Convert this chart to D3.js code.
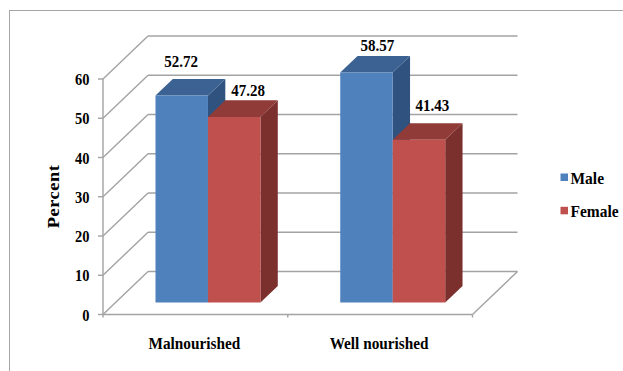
<!DOCTYPE html>
<html>
<head>
<meta charset="utf-8">
<script src="https://cdn.jsdelivr.net/npm/d3@7/dist/d3.min.js"></script>
<style>
  html, body { margin: 0; padding: 0; background: #ffffff; }
  svg { display: block; }
</style>
</head>
<body>
<svg id="chart" width="623" height="371"></svg>
<script>
// ---- data ----
const categories = ["Malnourished", "Well nourished"];
const seriesNames = ["Male", "Female"];
const maleValues = [52.72, 58.57];
const femaleValues = [47.28, 41.43];
const yTicks = [0, 10, 20, 30, 40, 50, 60];
const axisTitle = "Percent";

// ---- layout ----
const FONT = "'Liberation Serif', 'Times New Roman', Times, 'DejaVu Serif', serif";
const plotLeft = 103, plotRight = 472.5;
const yBottom = 314.5, yTop = 79;
const depth = { dx: 45, dy: -43 };       // floor / wall depth vector
const barDepthFront = 0.28, barDepthBack = 0.665;
const gridColor = "#a3a3a3";
const colors = {
  Male:   { front: "#4f81bd", top: "#3b6293", side: "#30527e" },
  Female: { front: "#c0504d", top: "#913b39", side: "#7b302e" }
};
// small per-label nudges relative to the top of each bar's front face
const labelShift = {
  Male:   [[-0.5, -29], [11, -22]],
  Female: [[14, -21], [13.5, -29]]
};

const svg = d3.select("#chart");

const y = d3.scaleLinear().domain([0, 60]).range([yBottom, yTop]);
const x0 = d3.scaleBand().domain(categories).range([plotLeft, plotRight]).padding(0);
const x1 = d3.scaleBand().domain(seriesNames).range([0, x0.bandwidth()])
  .paddingInner(0).paddingOuter(0.76);

// projection of a front-plane point (x, value) pushed back by fraction d of the depth
const P = (x, v, d) => [x + d * depth.dx, y(v) + d * depth.dy];
const poly = pts => "M" + pts.map(p => p.join(",")).join("L") + "Z";

// outer frame
svg.append("rect")
  .attr("x", 9.5).attr("y", 10.5).attr("width", 700).attr("height", 500)
  .attr("fill", "none").attr("stroke", "#a6a6a6").attr("stroke-width", 1);

const grid = svg.append("g").attr("stroke", gridColor).attr("stroke-width", 1.4).attr("fill", "none");

// back wall gridlines and left wall diagonals
yTicks.forEach(t => {
  const a = P(plotLeft, t, 1), b = P(plotRight, t, 1), f = P(plotLeft, t, 0);
  grid.append("line").attr("x1", a[0]).attr("y1", a[1]).attr("x2", b[0]).attr("y2", b[1]);
  grid.append("line").attr("x1", f[0]).attr("y1", f[1]).attr("x2", a[0]).attr("y2", a[1]);
});

// floor front edge and right edge
{
  const fl = P(plotLeft, 0, 0), fr = P(plotRight, 0, 0), br = P(plotRight, 0, 1);
  grid.append("line").attr("x1", fl[0]).attr("y1", fl[1]).attr("x2", fr[0]).attr("y2", fr[1]);
  grid.append("line").attr("x1", fr[0]).attr("y1", fr[1]).attr("x2", br[0]).attr("y2", br[1]);
}

// value axis line and tick marks
grid.append("line").attr("x1", plotLeft).attr("y1", y(60)).attr("x2", plotLeft).attr("y2", yBottom + 3);
yTicks.forEach(t => {
  grid.append("line").attr("x1", plotLeft - 5).attr("y1", y(t)).attr("x2", plotLeft).attr("y2", y(t));
});
// category tick marks
[x0(categories[1]), plotRight].forEach(xx => {
  grid.append("line").attr("x1", xx).attr("y1", yBottom).attr("x2", xx).attr("y2", yBottom + 3);
});

// bars
const barData = [];
categories.forEach((c, i) => {
  seriesNames.forEach(s => {
    const v = s === "Male" ? maleValues[i] : femaleValues[i];
    barData.push({ cat: c, series: s, value: v, idx: i });
  });
});

const bars = svg.append("g");
barData.forEach(d => {
  const xl = x0(d.cat) + x1(d.series), xr = xl + x1.bandwidth();
  const f = barDepthFront, b = barDepthBack, v = d.value;
  const g = bars.append("g");
  g.append("path").attr("d", poly([P(xr, 0, f), P(xr, v, f), P(xr, v, b), P(xr, 0, b)]))
    .attr("fill", colors[d.series].side);
  g.append("path").attr("d", poly([P(xl, v, f), P(xr, v, f), P(xr, v, b), P(xl, v, b)]))
    .attr("fill", colors[d.series].top);
  g.append("path").attr("d", poly([P(xl, 0, f), P(xr, 0, f), P(xr, v, f), P(xl, v, f)]))
    .attr("fill", colors[d.series].front);
});

// text helper: vertically stretched bold serif text
function label(x, yy, str, size, anchor, sy) {
  return svg.append("text")
    .attr("transform", `translate(${x},${yy}) scale(1,${sy})`)
    .attr("text-anchor", anchor)
    .attr("font-family", FONT)
    .attr("font-weight", "bold")
    .attr("font-size", size)
    .attr("fill", "#000")
    .text(str);
}

// value labels
barData.forEach(d => {
  const xl = x0(d.cat) + x1(d.series), xr = xl + x1.bandwidth();
  const top = P((xl + xr) / 2, d.value, barDepthFront);
  const sh = labelShift[d.series][d.idx];
  label(top[0] + sh[0], top[1] + sh[1], d.value.toFixed(2), 15, "middle", 1.08);
});

// y tick labels
yTicks.forEach(t => label(89.5, y(t) + 6, String(t), 14.5, "end", 1.18));

// category labels
categories.forEach(c => label(x0(c) + x0.bandwidth() / 2 - 1, 348.5, c, 15.3, "middle", 1.15));

// axis title
svg.append("text")
  .attr("transform", "translate(58.5,196.5) rotate(-90) scale(1.08,1)")
  .attr("text-anchor", "middle")
  .attr("font-family", FONT)
  .attr("font-weight", "bold")
  .attr("font-size", 17)
  .attr("letter-spacing", 0.5)
  .attr("fill", "#000")
  .text(axisTitle);

// legend
const legendY = [184, 217.3];
seriesNames.forEach((s, i) => {
  svg.append("rect").attr("x", 560.5).attr("y", legendY[i] - 10.5).attr("width", 7.5).attr("height", 7.5)
    .attr("fill", colors[s].front);
  label(570.5, legendY[i], s, 15.5, "start", 1.12);
});
</script>
</body>
</html>
